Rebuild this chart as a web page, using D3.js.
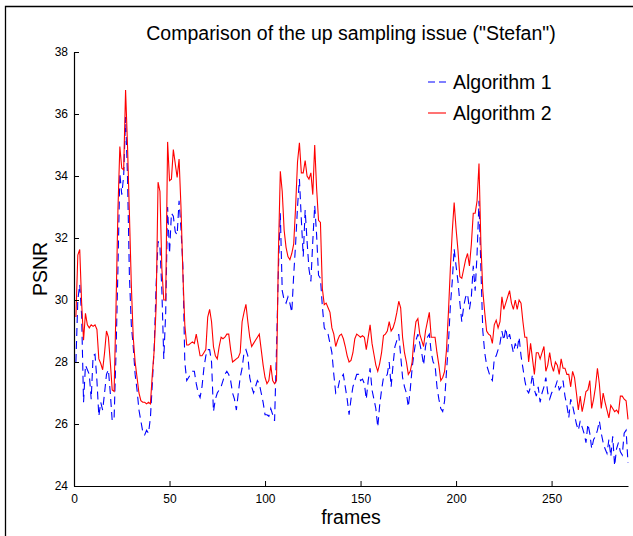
<!DOCTYPE html>
<html>
<head>
<meta charset="utf-8">
<script src="https://cdn.jsdelivr.net/npm/d3@7"></script>
<style>
  html, body { margin: 0; padding: 0; background: #fff; }
  svg { display: block; }
  text { font-family: "Liberation Sans", Arial, Helvetica, sans-serif; fill: #000; }
</style>
</head>
<body>
<script>
// ---- data ----
const titleText = 'Comparison of the up sampling issue ("Stefan")';
const xLabel = "frames";
const yLabel = "PSNR";
const seriesNames = ["Algorithm 1", "Algorithm 2"];
const xTicks = [0, 50, 100, 150, 200, 250];
const yTicks = [24, 26, 28, 30, 32, 34, 36, 38];
const frameStart = 1;

const algorithm1 = [
  28.0, 30.0, 30.5, 29.5, 26.7, 27.9, 27.75, 27.6, 26.8, 28.2,
  28.25, 27.4, 26.25, 26.7, 26.45, 27.0, 27.6, 27.75, 27.0, 26.1,
  26.2, 28.3, 31.0, 34.1, 33.4, 34.0, 35.9, 34.0, 30.8, 29.2,
  28.5, 27.6, 27.1, 26.45, 26.1, 25.75, 25.65, 25.8, 25.7, 26.2,
  27.3, 28.5, 30.5, 31.9, 31.7, 30.3, 28.1, 29.6, 33.0, 31.5,
  32.8, 32.7, 32.2, 32.1, 33.2, 32.3, 31.1, 28.0, 27.4, 27.5,
  27.6, 27.7, 27.7, 27.3, 27.0, 26.85, 27.2, 27.8, 28.2, 28.4,
  28.4, 28.0, 26.4, 26.8, 27.0, 27.1, 27.2, 27.4, 27.6, 27.7,
  27.6, 27.4, 27.0, 26.8, 26.45, 27.0, 27.5, 27.8, 28.3, 28.4,
  28.2, 27.5, 27.2, 27.0, 27.2, 27.4, 27.3, 27.0, 26.7, 26.3,
  26.3, 26.25, 26.5, 26.3, 26.1, 28.4, 31.0, 32.8, 30.3, 30.0,
  29.9, 30.1, 29.9, 29.6, 30.8, 31.8, 33.0, 33.9, 32.6, 31.4,
  32.9, 31.9, 31.0, 30.6, 31.9, 33.05, 32.1, 30.8, 30.7, 29.8,
  29.1, 29.0, 28.9, 28.6, 28.3, 27.6, 27.0, 27.1, 27.4, 27.5,
  27.6, 27.2, 26.8, 26.3, 26.8, 27.2, 27.4, 27.6, 27.6, 27.4,
  27.45, 27.3, 26.8, 27.4, 27.8, 27.1, 26.8, 26.5, 25.9, 26.6,
  27.1, 27.5, 27.5, 27.6, 28.0, 27.2, 27.9, 28.5, 28.7, 28.9,
  28.2, 27.5, 27.2, 27.0, 26.55, 27.1, 27.8, 28.3, 28.7, 28.9,
  28.6, 28.3, 27.9, 28.5, 28.8, 28.9, 28.3, 28.0, 27.9, 27.2,
  26.8, 26.5, 26.4, 26.75, 27.7, 28.6, 29.8, 30.6, 31.65, 31.1,
  30.6, 29.9, 29.3, 29.8, 30.1, 30.2, 29.7, 30.1, 31.1, 30.3,
  31.5, 33.2, 31.0, 29.0, 28.3, 27.9, 27.7, 27.5, 27.4, 28.1,
  28.2, 28.4, 28.6, 29.0, 28.7, 29.1, 28.7, 28.9, 28.6, 28.3,
  28.6, 28.4, 28.8, 28.2, 27.8, 27.4, 27.1, 27.0, 27.2, 27.6,
  27.1, 26.9, 27.2, 26.7, 27.0, 27.2, 27.5, 27.0, 26.8, 27.0,
  27.1, 27.2, 27.4, 27.1, 27.2, 27.4, 26.9, 26.6, 26.2, 26.8,
  26.6, 26.3, 26.0, 25.8, 26.1, 25.9, 25.7, 25.4, 26.0, 25.7,
  25.2, 25.5, 25.6, 25.8, 26.1, 25.7, 25.4, 25.2, 25.05, 25.5,
  24.95, 25.6, 24.65, 25.2, 25.4, 25.1, 25.0, 25.7, 25.8, 24.75
];

const algorithm2 = [
  29.45, 31.45, 31.63, 29.9, 28.7, 29.57, 29.2, 29.1, 29.2, 29.15,
  29.2, 29.05, 28.1, 27.95, 27.75, 28.3, 29.0, 28.8, 28.0, 27.1,
  27.05, 29.8, 32.9, 34.95, 34.25, 34.2, 36.77, 35.0, 32.8, 30.5,
  28.8, 28.0, 27.5, 27.0, 26.75, 26.7, 26.7, 26.65, 26.7, 26.65,
  27.6, 28.4, 29.8, 33.8, 33.5, 31.0, 30.0, 30.0, 35.1, 33.85,
  33.9, 34.85, 34.4, 33.95, 34.55, 33.0, 30.85, 29.2, 28.55, 28.55,
  28.6, 28.65, 28.6, 28.9, 28.55, 28.2, 28.2, 28.3, 28.4, 29.45,
  29.7, 29.3, 28.5, 28.2, 28.1, 28.5, 28.8, 28.75, 28.8, 28.9,
  28.9, 28.4, 28.0, 28.05, 28.1, 28.15, 28.3, 29.3, 29.6, 29.86,
  29.3, 28.8, 28.5, 28.6, 28.7, 28.8, 28.9, 28.4, 27.9, 27.5,
  27.3, 27.4, 27.9, 27.4, 27.3, 27.4, 31.5, 34.15, 33.5, 32.25,
  31.7, 31.4, 31.3, 31.5, 31.8, 33.0, 34.45, 35.07, 34.1, 34.1,
  34.5, 34.0, 33.9, 34.1, 33.4, 35.0, 33.6, 32.57, 32.5, 30.37,
  29.85, 29.9, 29.75, 29.6, 29.1, 28.9, 28.5, 28.7, 28.85, 28.9,
  28.75, 28.5, 28.2, 28.0, 28.05, 28.3, 28.75, 28.9, 28.85, 28.8,
  28.85, 28.8, 28.4, 28.8, 29.2, 28.6, 28.25, 27.9, 27.7, 27.95,
  28.3, 28.85, 28.9, 29.0, 29.3, 29.0, 29.1, 29.3, 29.6, 29.96,
  29.75, 28.8, 28.3, 28.0, 27.6, 27.7, 28.0, 28.8, 29.3, 29.4,
  28.9, 28.7, 28.5, 29.0, 29.3, 29.6, 28.8, 28.8, 28.8, 28.3,
  27.9, 27.4, 27.5, 27.7, 28.4, 29.6, 31.0, 32.2, 33.14, 32.3,
  31.6, 30.75, 30.7, 31.0, 31.3, 31.5, 31.1, 31.8, 32.8, 32.8,
  33.2, 34.4, 31.8, 30.3, 29.6, 29.0, 28.9, 28.85, 28.6, 29.2,
  29.35, 29.1, 29.3, 30.1, 29.7, 29.9, 30.1, 30.3, 29.9, 29.7,
  30.0, 29.7, 30.0, 29.9, 29.3, 28.8, 28.8, 28.0, 28.6, 28.1,
  27.6, 28.3, 28.3, 28.1, 28.3, 28.5, 27.7, 27.9, 28.3, 27.9,
  27.7, 28.0, 27.9, 27.6, 28.1, 27.8, 27.8, 27.6, 27.6, 27.2,
  27.7, 27.5, 27.0, 26.45, 26.9, 26.4, 26.7, 27.05, 27.1, 27.4,
  26.5, 26.8, 27.2, 27.8, 27.3, 26.5, 27.0, 26.7, 26.45, 26.2,
  26.6, 26.5, 26.4, 26.45, 26.35, 26.9, 26.9, 26.8, 26.75, 26.15
];

// ---- chart ----
const W = 633, H = 536;
const margin = { left: 74, top: 52, right: 633 - 628, bottom: 536 - 486 };

const svg = d3.select("body").append("svg")
  .attr("width", W).attr("height", H);

svg.append("rect").attr("width", W).attr("height", H).attr("fill", "#fff");

// outer frame (partially visible)
svg.append("path")
  .attr("d", `M5.5,${H} L5.5,6.5 L${W},6.5`)
  .attr("fill", "none").attr("stroke", "#000").attr("stroke-width", 1.3);

const x = d3.scaleLinear().domain([0, 290]).range([margin.left, W - margin.right]);
const y = d3.scaleLinear().domain([24, 38]).range([H - margin.bottom, margin.top]);

const mkData = arr => arr.map((v, i) => ({ f: frameStart + i, v }));
const line = d3.line().x(d => x(d.f)).y(d => y(d.v));

// lines
svg.append("path")
  .datum(mkData(algorithm1))
  .attr("fill", "none")
  .attr("stroke", "#0000ff")
  .attr("stroke-width", 1.1)
  .attr("stroke-dasharray", "8,5")
  .attr("d", line);

svg.append("path")
  .datum(mkData(algorithm2))
  .attr("fill", "none")
  .attr("stroke", "#ff0000")
  .attr("stroke-width", 1.1)
  .attr("d", line);

// axes (ticks inward)
const xAxis = d3.axisBottom(x).tickValues(xTicks).tickSizeInner(-5).tickSizeOuter(0).tickPadding(8);
const yAxis = d3.axisLeft(y).tickValues(yTicks).tickSizeInner(-5).tickSizeOuter(0).tickPadding(6);

const gx = svg.append("g").attr("transform", `translate(0,${y(24)})`).call(xAxis);
const gy = svg.append("g").attr("transform", `translate(${x(0)},0)`).call(yAxis);

[gx, gy].forEach(g => {
  g.select(".domain").attr("stroke", "#000").attr("stroke-width", 1.2);
  g.selectAll(".tick line").attr("stroke", "#000").attr("stroke-width", 1);
  g.selectAll(".tick text")
    .attr("font-family", '"Liberation Sans", Arial, sans-serif')
    .attr("font-size", 12).attr("fill", "#000");
});

// title & labels
svg.append("text")
  .attr("x", 351).attr("y", 40)
  .attr("text-anchor", "middle")
  .attr("font-size", 19.5)
  .text(titleText);

svg.append("text")
  .attr("x", 351).attr("y", 524)
  .attr("text-anchor", "middle")
  .attr("font-size", 19.5)
  .text(xLabel);

svg.append("text")
  .attr("transform", `translate(47,${(y(24) + y(38)) / 2}) rotate(-90)`)
  .attr("text-anchor", "middle")
  .attr("font-size", 19.5)
  .text(yLabel);

// legend
const legend = svg.append("g");
const legendItems = [
  { name: seriesNames[0], color: "#0000ff", dash: "7,4", y: 82 },
  { name: seriesNames[1], color: "#ff0000", dash: null, y: 113 }
];
legendItems.forEach(it => {
  legend.append("line")
    .attr("x1", 428).attr("x2", 446)
    .attr("y1", it.y).attr("y2", it.y)
    .attr("stroke", it.color).attr("stroke-width", 1.1)
    .attr("stroke-dasharray", it.dash);
  legend.append("text")
    .attr("x", 453).attr("y", it.y + 7)
    .attr("font-size", 19.5)
    .text(it.name);
});
</script>
</body>
</html>
